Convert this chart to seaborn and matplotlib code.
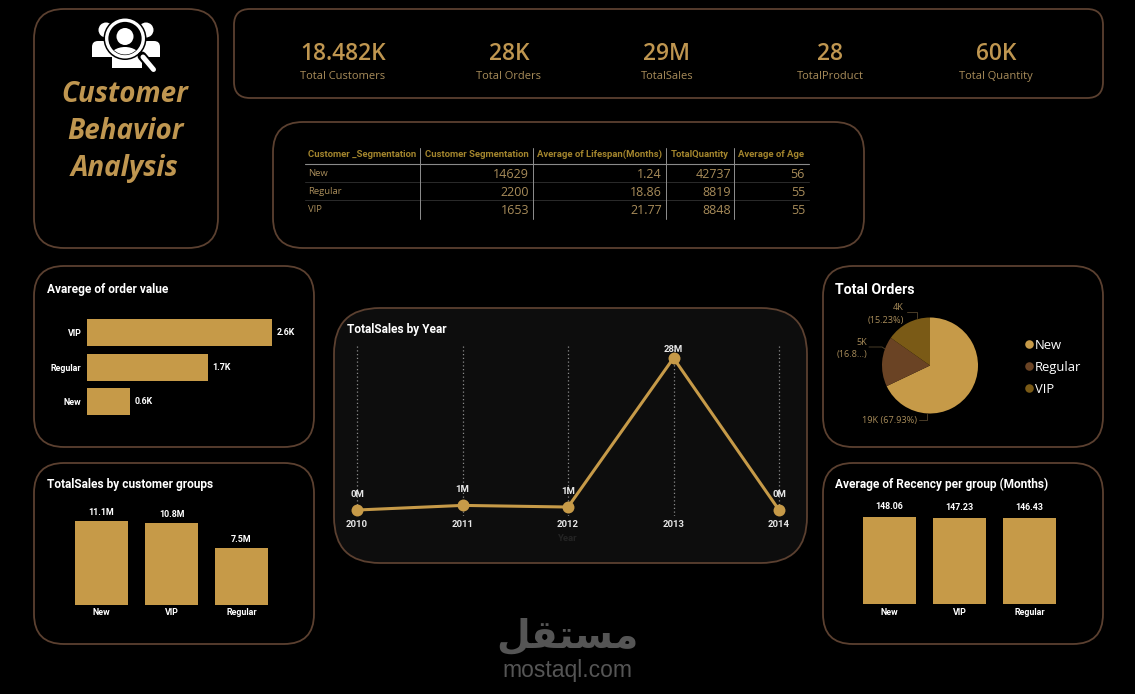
import matplotlib
matplotlib.use("Agg")
import matplotlib.pyplot as plt
from matplotlib.patches import FancyBboxPatch, Circle, Ellipse, Polygon
import pandas as pd
import seaborn as sns

# ---- data ----
kpi_values = ["18.482K", "28K", "29M", "28", "60K"]
kpi_labels = ["Total Customers", "Total Orders", "TotalSales", "TotalProduct", "Total Quantity"]

table_headers = ["Customer _Segmentation", "Customer Segmentation",
                 "Average of Lifespan(Months)", "TotalQuantity", "Average of Age"]
table_groups = ["New", "Regular", "VIP"]
table_customers = ["14629", "2200", "1653"]
table_lifespan = ["1.24", "18.86", "21.77"]
table_quantity = ["42737", "8819", "8848"]
table_age = ["56", "55", "55"]

order_groups = ["VIP", "Regular", "New"]
order_values = [2.6, 1.7, 0.6]

sales_groups = ["New", "VIP", "Regular"]
sales_values = [11.1, 10.8, 7.5]

recency_groups = ["New", "VIP", "Regular"]
recency_values = [148.06, 147.23, 146.43]

years = [2010, 2011, 2012, 2013, 2014]
year_sales = [0.05, 0.9, 0.6, 28.0, 0.05]
year_labels = ["0M", "1M", "1M", "28M", "0M"]

pie_groups = ["New", "Regular", "VIP"]
pie_shares = [67.93, 16.84, 15.23]

# ---- style ----
W, H = 1135, 694
GOLD = "#C69A48"
BROWN = "#6A4324"
OLIVE = "#7A5A16"
EDGE = "#5B4030"
TITLE_GOLD = "#BF9650"
MUTED = "#A88C5A"
HEAD_GOLD = "#A3852D"
BODY = "Open Sans"
DIN = "Roboto"

sns.set_theme(style="dark", rc={"axes.facecolor": "none", "figure.facecolor": "black",
                                "savefig.facecolor": "black"})
plt.rcParams["font.family"] = [BODY, "DejaVu Sans"]

fig = plt.figure(figsize=(W / 100, H / 100), dpi=100, facecolor="black")


def axes_px(x0, y0, x1, y1, **kw):
    """Axes placed by its pixel box, y measured from the top of the figure."""
    ax = fig.add_axes([x0 / W, 1 - y1 / H, (x1 - x0) / W, (y1 - y0) / H], **kw)
    ax.patch.set_visible(False)
    return ax


def strip(ax):
    for side in ax.spines.values():
        side.set_visible(False)
    ax.set_xlabel("")
    ax.set_ylabel("")
    ax.tick_params(length=0)


page = axes_px(0, 0, W, H)
page.set_xlim(0, W)
page.set_ylim(H, 0)
page.axis("off")


def panel(x0, y0, x1, y1, r, fill="black"):
    page.add_patch(FancyBboxPatch((x0, y0), x1 - x0, y1 - y0,
                                  boxstyle=f"round,pad=0,rounding_size={r}",
                                  fc=fill, ec=EDGE, lw=1.3))


panel(34, 9, 218, 248, 30)
panel(234, 9, 1103, 98, 16)
panel(273, 122, 864, 248, 30)
panel(34, 266, 314, 447, 30)
panel(34, 463, 314, 644, 30)
panel(334, 308, 807, 563, 46, fill="#0D0D0D")
panel(823, 266, 1103, 447, 30)
panel(823, 463, 1103, 644, 30)

# ---- people-search icon ----
W_ICON = "white"
for cx in (106, 146):
    page.add_patch(Circle((cx, 30), 7.5, fc=W_ICON, ec="none"))
page.add_patch(FancyBboxPatch((92, 41), 20, 12, boxstyle="round,pad=0,rounding_size=6", fc=W_ICON, ec="none"))
page.add_patch(FancyBboxPatch((138, 41), 22, 12, boxstyle="round,pad=0,rounding_size=6", fc=W_ICON, ec="none"))
page.add_patch(Polygon([(92, 47), (112, 47), (112, 57), (92, 57)], fc=W_ICON, ec="none"))
page.add_patch(Polygon([(138, 47), (160, 47), (160, 57), (138, 57)], fc=W_ICON, ec="none"))
page.add_patch(Polygon([(112, 50), (142, 50), (142, 68), (112, 68)], fc=W_ICON, ec="none"))
page.add_patch(Circle((125, 38.5), 21.5, fc="black", ec="none"))
page.plot([142, 154], [56, 70], color="black", lw=6.5, solid_capstyle="round")
page.plot([143, 153.5], [57, 69.5], color=W_ICON, lw=3.6, solid_capstyle="round")
page.add_patch(Circle((125, 38.5), 18.3, fc="black", ec=W_ICON, lw=2.4))
page.add_patch(Circle((125, 36.5), 8.5, fc=W_ICON, ec="none"))
torso = Ellipse((125, 57), 30, 20, fc=W_ICON, ec="none")
page.add_patch(torso)
torso.set_clip_path(Circle((125, 38.5), 16, transform=page.transData))

for line, y in zip(["Customer", "Behavior", "Analysis"], [94, 131, 168]):
    page.text(125, y, line, color=TITLE_GOLD, fontsize=20, fontweight="bold", fontstyle="italic",
              ha="center", va="center")

# ---- KPI strip ----
for cx, value, label in zip([343, 509, 667, 830, 996], kpi_values, kpi_labels):
    page.text(cx, 53.5, value, color=TITLE_GOLD, fontsize=16.4, fontweight="semibold", ha="center", va="center")
    page.text(cx, 76, label, color=MUTED, fontsize=8.0, ha="center", va="center")

# ---- segmentation table ----
for x, head in zip([308, 425, 537, 671, 738], table_headers):
    page.text(x, 154, head, color=HEAD_GOLD, fontsize=6.8, fontweight="bold", ha="left", va="center",
              family=DIN)
page.plot([305, 809], [164, 164], color="#8A8A8A", lw=0.8)
for y in (182, 200):
    page.plot([305, 809], [y, y], color="#2B2B2B", lw=0.7)
for x in (420, 533, 666, 734):
    page.plot([x, x], [148, 219], color="#8F8F8F", lw=0.7)
for i, y in enumerate([173, 191, 209]):
    page.text(308, y, table_groups[i], color=MUTED, fontsize=6.8, ha="left", va="center")
    for x, col in zip([529, 662, 731, 805], [table_customers, table_lifespan, table_quantity, table_age]):
        page.text(x, y + 1.5, col[i], color=MUTED, fontsize=9, ha="right", va="center")

# ---- panel titles ----
for x, y, title, size in [(47, 289.5, "Avarege of order value", 8.6),
                          (47, 484, "TotalSales by customer groups", 8.6),
                          (347, 329, "TotalSales by Year", 8.6),
                          (835, 289.5, "Total Orders", 10.2),
                          (835, 484, "Average of Recency per group (Months)", 8.6)]:
    page.text(x, y, title, color="white", fontsize=size, fontweight="bold", family=DIN,
              ha="left", va="center")

TICK_FONT = {"color": "white", "fontsize": 6.4, "fontweight": "semibold", "family": DIN}

# ---- average order value, horizontal bars ----
ax = axes_px(87, 315.5, 300, 419)
frame = pd.DataFrame({"group": order_groups, "value": order_values})
sns.barplot(data=frame, y="group", x="value", orient="h", color=GOLD, saturation=1, width=0.78,
            linewidth=0, ax=ax)
ax.set_xlim(0, 3)
ax.set_xticks([])
strip(ax)
ax.tick_params(axis="y", pad=4)
for t in ax.get_yticklabels():
    t.set(**TICK_FONT)
ax.bar_label(ax.containers[0], fmt="%.1fK", padding=3.5, **TICK_FONT)

# ---- sales by group, columns ----
ax = axes_px(66.5, 514, 276.5, 605)
frame = pd.DataFrame({"group": sales_groups, "value": sales_values})
sns.barplot(data=frame, x="group", y="value", color=GOLD, saturation=1, width=0.757, linewidth=0, ax=ax)
ax.set_ylim(0, 12)
ax.set_yticks([])
strip(ax)
ax.tick_params(axis="x", pad=2.5)
for t in ax.get_xticklabels():
    t.set(**TICK_FONT)
ax.bar_label(ax.containers[0], fmt="%.1fM", padding=3, **TICK_FONT)

# ---- recency by group, columns ----
ax = axes_px(854.5, 510, 1064.5, 604)
frame = pd.DataFrame({"group": recency_groups, "value": recency_values})
sns.barplot(data=frame, x="group", y="value", color=GOLD, saturation=1, width=0.757, linewidth=0, ax=ax)
ax.set_ylim(0, 160)
ax.set_yticks([])
strip(ax)
ax.tick_params(axis="x", pad=3)
for t in ax.get_xticklabels():
    t.set(**TICK_FONT)
ax.bar_label(ax.containers[0], fmt="%.2f", padding=4, **TICK_FONT)

# ---- yearly sales line ----
ax = axes_px(340, 345, 796, 516)
frame = pd.DataFrame({"year": years, "sales": year_sales})
sns.lineplot(data=frame, x="year", y="sales", color=GOLD, lw=2.2, marker="o", markersize=8.6,
             markeredgecolor=GOLD, markeredgewidth=0, ax=ax, zorder=3)
ax.set_xlim(2010 - 17 / 105.5, 2014 + 17 / 105.5)
ax.set_ylim(-1.05, 30.4)
ax.set_xticks(years)
ax.set_yticks([])
strip(ax)
ax.grid(axis="x", color="#8A8A8A", linestyle=(0, (1, 2)), lw=0.9)
ax.grid(axis="y", visible=False)
ax.tick_params(axis="x", pad=3.2)
for t in ax.get_xticklabels():
    t.set(color="#E6E6E6", fontsize=6.8, fontweight="semibold", family=DIN)
ax.set_xlabel("Year", color="#242424", fontsize=6.8, fontweight="bold", family=DIN, labelpad=3)
for x, y, text in zip(years, year_sales, year_labels):
    offset = 6.5 if text == "28M" else 11.5
    ax.annotate(text, (x, y), xytext=(0, offset), textcoords="offset points", ha="center", va="center",
                color="#E6E6E6", fontsize=6.8, fontweight="semibold", family=DIN)

# ---- orders pie ----
ax = axes_px(882, 317.5, 978, 413.5)
ax.pie(pie_shares, colors=[GOLD, BROWN, OLIVE], startangle=90, counterclock=False, radius=1,
       wedgeprops={"linewidth": 0})
ax.set_xlim(-1, 1)
ax.set_ylim(-1, 1)

PIE_TEXT = {"color": MUTED, "fontsize": 6.6}
page.text(917, 420, "19K (67.93%)", ha="right", va="center", **PIE_TEXT)
page.plot([919, 927, 927], [419.5, 419.5, 414], color="#4A3C28", lw=0.7)
page.text(904, 307, "4K", ha="right", va="center", **PIE_TEXT)
page.text(904, 320, "(15.23%)", ha="right", va="center", **PIE_TEXT)
page.plot([907, 917, 917], [312, 312, 318], color="#4A3C28", lw=0.7)
page.text(867, 342, "5K", ha="right", va="center", **PIE_TEXT)
page.text(867, 354, "(16.8...)", ha="right", va="center", **PIE_TEXT)
page.plot([869, 882, 885], [347, 347, 349], color="#4A3C28", lw=0.7)

for y, group, colour in zip([344, 366, 388], pie_groups, [GOLD, BROWN, OLIVE]):
    page.scatter([1029], [y], s=38, color=colour, linewidths=0)
    page.text(1035, y + 1, group, color="white", fontsize=9.4, ha="left", va="center")

# ---- site mark ----
page.text(567, 637, "\uFEDE\uFED8\uFE98\uFEB4\uFEE3", color="#555555", fontsize=28, fontweight="bold",
          family="DejaVu Sans", ha="center", va="center")
page.text(567, 670.5, "mostaql.com", color="#555555", fontsize=16.5, family="Liberation Sans",
          ha="center", va="center")

fig.savefig("out.png", dpi=100, facecolor="black")
